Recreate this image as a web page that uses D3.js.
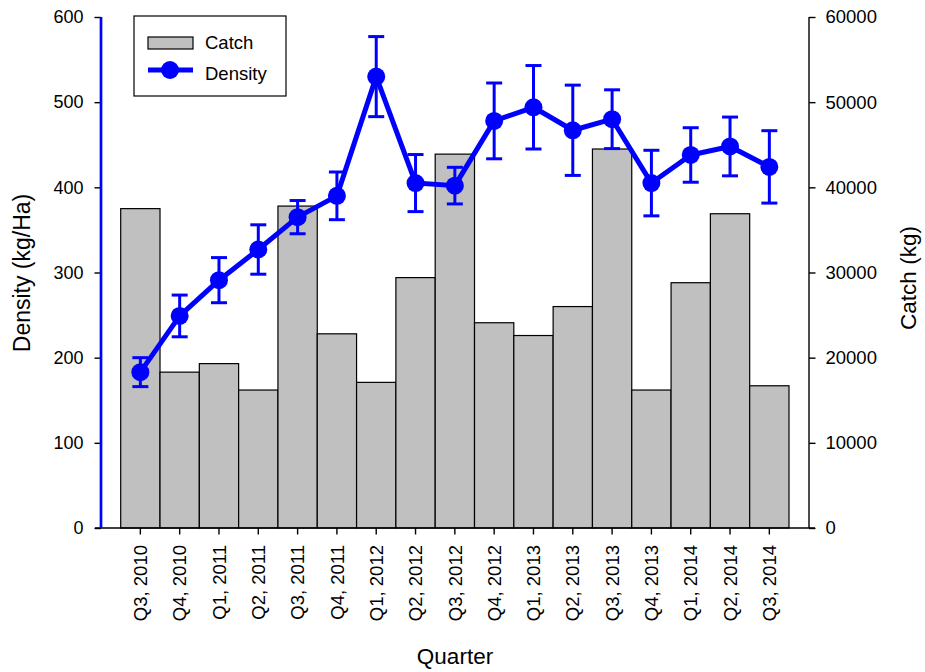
<!DOCTYPE html>
<html>
<head>
<meta charset="utf-8">
<script src="https://cdn.jsdelivr.net/npm/d3@7"></script>
<style>
  html, body { margin: 0; padding: 0; background: #fff; }
  svg { display: block; }
  text { font-family: "Liberation Sans", Arial, sans-serif; fill: #000; }
</style>
</head>
<body>
<svg id="chart" width="925" height="672"></svg>
<script>
const categories = ["Q3, 2010","Q4, 2010","Q1, 2011","Q2, 2011","Q3, 2011","Q4, 2011","Q1, 2012","Q2, 2012","Q3, 2012","Q4, 2012","Q1, 2013","Q2, 2013","Q3, 2013","Q4, 2013","Q1, 2014","Q2, 2014","Q3, 2014"];
const catch_kg = [37500, 18300, 19300, 16200, 37800, 22800, 17100, 29400, 43900, 24100, 22600, 26000, 44500, 16200, 28800, 36900, 16700];
const density = [183, 249, 291, 327, 365, 390, 530, 405, 402, 478, 494, 467, 480, 405, 438, 448, 424];
const densityErr = [17, 24.5, 26.5, 29, 19.5, 28, 47, 33.5, 21.5, 44.5, 49, 53, 34.5, 38.5, 32, 34.5, 42.5];
const densityTicks = [0, 100, 200, 300, 400, 500, 600];
const catchTicks = [0, 10000, 20000, 30000, 40000, 50000, 60000];

(function () {
const svg = d3.select("#chart");
const pLeft = 120.7, pRight = 789, pTop = 17, pBottom = 528;
const axisL = 101, axisR = 809;

const x = d3.scaleBand().domain(categories).range([pLeft, pRight]).padding(0);
const yL = d3.scaleLinear().domain([0, 600]).range([pBottom, pTop]);
const yR = d3.scaleLinear().domain([0, 60000]).range([pBottom, pTop]);

// Bars
svg.append("g").selectAll("rect").data(categories).join("rect")
  .attr("x", d => x(d))
  .attr("y", (d, i) => yR(catch_kg[i]))
  .attr("width", x.bandwidth())
  .attr("height", (d, i) => pBottom - yR(catch_kg[i]))
  .attr("fill", "#c0c0c0")
  .attr("stroke", "#000")
  .attr("stroke-width", 1.2);

// Bottom axis line
svg.append("line").attr("x1", 95).attr("x2", 815).attr("y1", pBottom).attr("y2", pBottom)
  .attr("stroke", "#000").attr("stroke-width", 1.4);

// X axis
const gx = svg.append("g").attr("transform", `translate(0,${pBottom})`)
  .call(d3.axisBottom(x).tickSize(6.5).tickSizeOuter(0));
gx.select(".domain").remove();
gx.selectAll(".tick line").attr("stroke", "#000").attr("stroke-width", 1.4);
gx.selectAll(".tick text")
  .attr("font-size", "18.5px")
  .attr("text-anchor", "end")
  .attr("transform", "translate(0,17) rotate(-90)")
  .attr("x", 0).attr("y", 0).attr("dy", "0.36em");

// Left axis
const gl = svg.append("g").attr("transform", `translate(${axisL},0)`)
  .call(d3.axisLeft(yL).tickValues(densityTicks).tickFormat(d3.format("d")).tickSize(6.5).tickSizeOuter(0).tickPadding(11));
gl.select(".domain").remove();
gl.selectAll(".tick line").attr("stroke", "#000").attr("stroke-width", 1.4);
gl.selectAll(".tick text").attr("font-size", "18px");
svg.append("line").attr("x1", axisL).attr("x2", axisL).attr("y1", pTop).attr("y2", pBottom)
  .attr("stroke", "#0000ff").attr("stroke-width", 2.7);

// Right axis
const gr = svg.append("g").attr("transform", `translate(${axisR},0)`)
  .call(d3.axisRight(yR).tickValues(catchTicks).tickFormat(d3.format("d")).tickSize(6.5).tickSizeOuter(0).tickPadding(10));
gr.select(".domain").attr("stroke", "#000").attr("stroke-width", 1.4).attr("d", `M0,${pTop}V${pBottom}`);
gr.selectAll(".tick line").attr("stroke", "#000").attr("stroke-width", 1.4);
gr.selectAll(".tick text").attr("font-size", "18.5px");

// Density line
const cx = d => x(d) + x.bandwidth() / 2;
const line = d3.line().x((d, i) => cx(categories[i])).y(d => yL(d));
svg.append("path").datum(density).attr("d", line)
  .attr("fill", "none").attr("stroke", "#0000ff").attr("stroke-width", 5).attr("stroke-linejoin", "round");

// Error bars
const eb = svg.append("g").attr("stroke", "#0000ff").attr("stroke-width", 3);
categories.forEach((c, i) => {
  const xc = cx(c), y1 = yL(density[i] + densityErr[i]), y2 = yL(density[i] - densityErr[i]);
  eb.append("line").attr("x1", xc).attr("x2", xc).attr("y1", y1).attr("y2", y2);
  eb.append("line").attr("x1", xc - 8).attr("x2", xc + 8).attr("y1", y1).attr("y2", y1);
  eb.append("line").attr("x1", xc - 8).attr("x2", xc + 8).attr("y1", y2).attr("y2", y2);
});

// Markers
svg.append("g").selectAll("circle").data(density).join("circle")
  .attr("cx", (d, i) => cx(categories[i]))
  .attr("cy", d => yL(d))
  .attr("r", 9)
  .attr("fill", "#0000ff");

// Axis titles
svg.append("text").attr("transform", "translate(30,273) rotate(-90)")
  .attr("text-anchor", "middle").attr("font-size", "23px").text("Density (kg/Ha)");
svg.append("text").attr("transform", "translate(916,278) rotate(-90)")
  .attr("text-anchor", "middle").attr("font-size", "22.5px").text("Catch (kg)");
svg.append("text").attr("x", 455).attr("y", 664)
  .attr("text-anchor", "middle").attr("font-size", "22.5px").text("Quarter");

// Legend
const lg = svg.append("g");
lg.append("rect").attr("x", 134).attr("y", 16).attr("width", 152).attr("height", 80)
  .attr("fill", "#fff").attr("stroke", "#000").attr("stroke-width", 1.2);
lg.append("rect").attr("x", 148).attr("y", 37).attr("width", 45).attr("height", 12)
  .attr("fill", "#c0c0c0").attr("stroke", "#000").attr("stroke-width", 1.2);
lg.append("text").attr("x", 205).attr("y", 49).attr("font-size", "18.5px").text("Catch");
lg.append("line").attr("x1", 148).attr("x2", 193).attr("y1", 70).attr("y2", 70)
  .attr("stroke", "#0000ff").attr("stroke-width", 5);
lg.append("circle").attr("cx", 170).attr("cy", 70).attr("r", 9).attr("fill", "#0000ff");
lg.append("text").attr("x", 205).attr("y", 80).attr("font-size", "18.5px").text("Density");
})();
</script>
</body>
</html>
